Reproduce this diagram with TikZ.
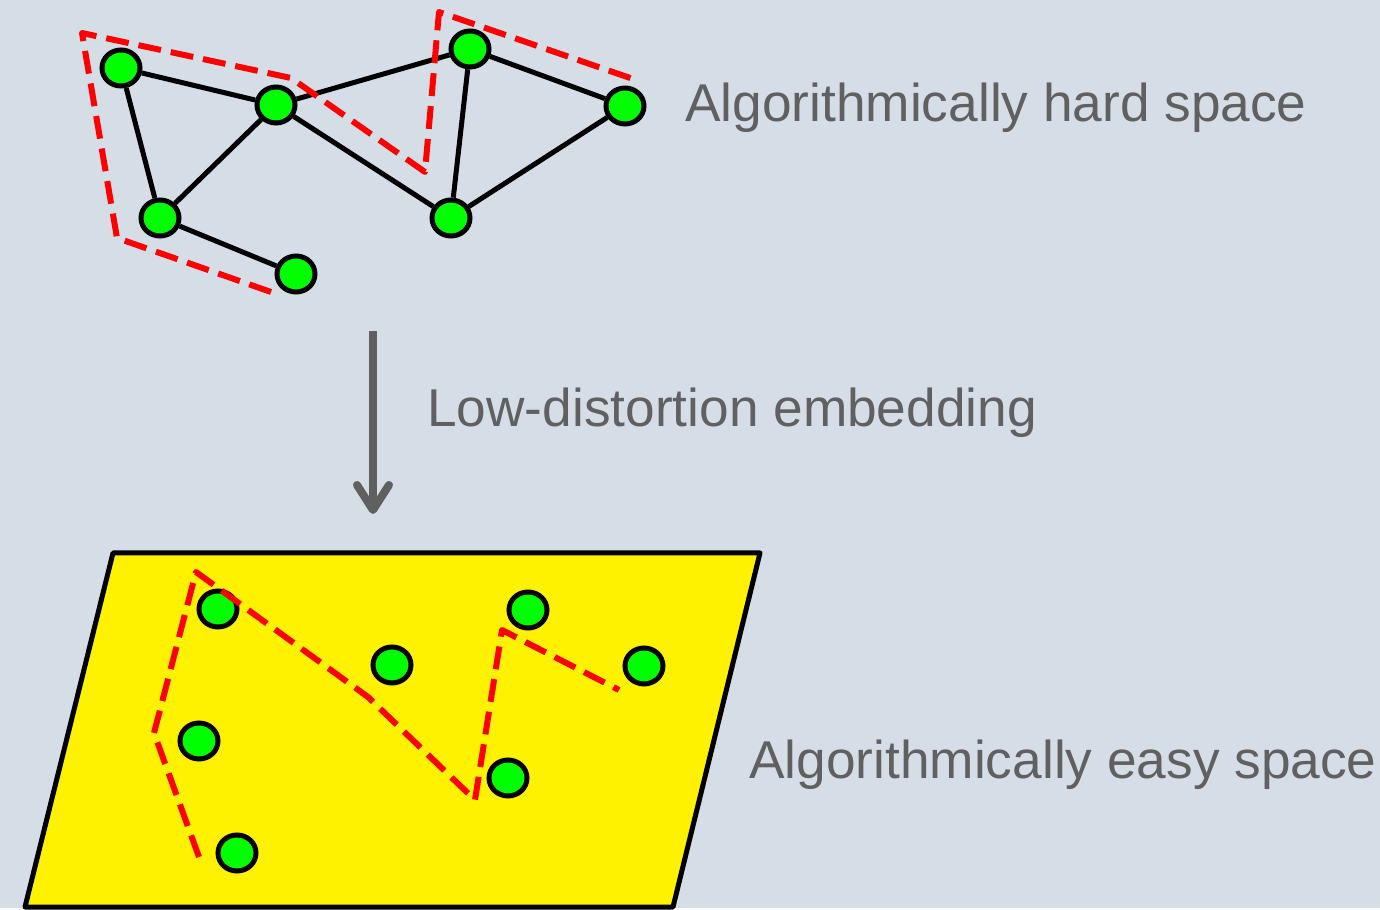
\documentclass[tikz,border=0pt]{standalone}
\usepackage{fontspec}
\setmainfont{Liberation Sans}
\usepackage{xcolor}
\usepackage{tikz}
\usetikzlibrary{shapes.geometric,arrows.meta}
\definecolor{bggray}{RGB}{213,222,230}
\definecolor{txtgray}{RGB}{96,96,96}
\pgfdeclarelayer{nodelayer}
\pgfdeclarelayer{edgelayer}
\pgfsetlayers{edgelayer, nodelayer, main}

\begin{document}
\begin{tikzpicture} [x=0.02cm, y=-0.02cm,
    vertex/.style={ellipse, draw=black, fill=green, line width=0.1cm, minimum width=0.76cm, minimum height=0.72cm, inner sep=0},
    edge/.style={line width=0.1cm},
    tour/.style={draw=red, line width=0.12cm, dash pattern=on 0.46cm off 0.2cm, line join=round},
    spacetext/.style={anchor=base west, inner sep=0, text=txtgray, font=\fontsize{30.3}{36}\selectfont}]
	\begin{pgfonlayer}{edgelayer}
        \fill[bggray] (0,0) rectangle (1380,908);
        \draw[fill=yellow, line width=0.1cm, line join=round] (113,553) -- (760,553) -- (673,907) -- (25,907) -- cycle;
	\end{pgfonlayer}
	\useasboundingbox (0,0) rectangle (1380,908);
	\begin{pgfonlayer}{nodelayer}
        % hard space
        \node[vertex] (1) at (121,68) {};
        \node[vertex] (2) at (276,105) {};
        \node[vertex] (3) at (160,218) {};
        \node[vertex] (4) at (296,274) {};
        \node[vertex] (5) at (470,49) {};
        \node[vertex] (6) at (625,106) {};
        \node[vertex] (7) at (451,218) {};
        % easy space
        \node[vertex] (8) at (218,609) {};
        \node[vertex] (9) at (392,665) {};
        \node[vertex] (10) at (528,610) {};
        \node[vertex] (11) at (644,666) {};
        \node[vertex] (12) at (199,741) {};
        \node[vertex] (13) at (508,778) {};
        \node[vertex] (14) at (237,853) {};
	\end{pgfonlayer}
	\begin{pgfonlayer}{edgelayer}
        \draw[edge] (1) to (2);
        \draw[edge] (1) to (3);
        \draw[edge] (3) to (2);
        \draw[edge] (3) to (4);
        \draw[edge] (2) to (5);
        \draw[edge] (2) to (7);
        \draw[edge] (5) to (7);
        \draw[edge] (5) to (6);
        \draw[edge] (6) to (7);
	\end{pgfonlayer}
        \draw[tour] (271,292) -- (117,238) -- (82,33) -- (291,78) -- (425,172) -- (439,12) -- (636,80);
        \draw[tour] (199,857) -- (154,733) -- (196,572) -- (368,697) -- (475,800) -- (502,630) -- (619,690);
        \coordinate (top) at (373,331);
        \coordinate (tip) at (373,514);
        \draw[draw=txtgray, line width=0.16cm, -{Straight Barb[length=0.5cm, width=0.64cm, round]}] (top) -- (tip);
        \node[spacetext] (hard) at (685,122) {Algorithmically hard space};
        \node[spacetext] (emb) at (427,427) {Low-distortion embedding};
        \node[spacetext] (easy) at (749,778) {Algorithmically easy space};
    \end{tikzpicture}
\end{document}
